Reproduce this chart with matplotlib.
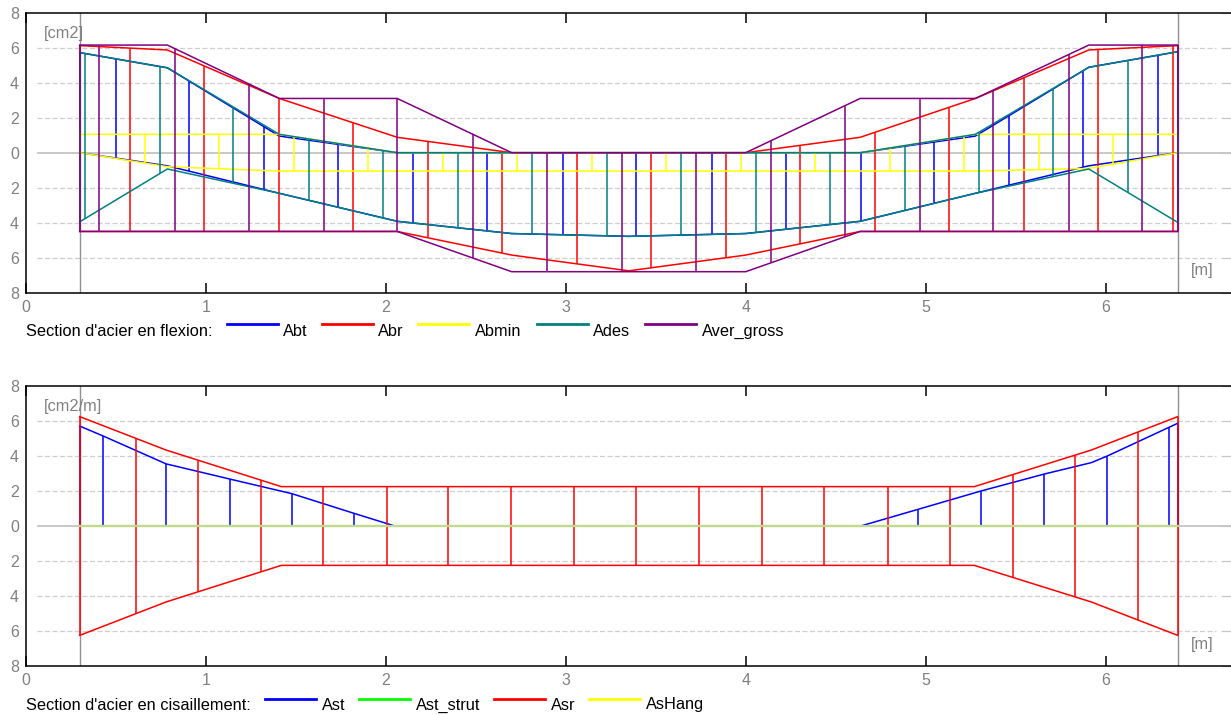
import numpy as np
import matplotlib
matplotlib.use("Agg")
import matplotlib.pyplot as plt
from matplotlib.lines import Line2D
from matplotlib.ticker import FuncFormatter

plt.rcParams['font.family'] = ['Liberation Sans', 'DejaVu Sans']

# ---------------- data : bending (flexion) ----------------
x_flex = [0.3, 0.787, 1.409, 2.064, 2.70, 3.35, 4.0, 4.636, 5.276, 5.906, 6.4]

abt_top = [5.72, 4.85, 0.95, 0.0, 0.0, 0.0, 0.0, 0.0, 0.95, 4.88, 5.77]
abt_bot = [0.0, -0.75, -2.32, -3.92, -4.62, -4.78, -4.62, -3.92, -2.32, -0.75, 0.0]
abt_hatch = [0.500, 0.909, 1.326, 1.737, 2.153, 2.564, 2.983, 3.392, 3.811,
             4.222, 4.639, 5.048, 5.464, 5.876, 6.292]

abr_top = [6.12, 5.87, 3.10, 0.88, 0.0, 0.0, 0.0, 0.88, 3.10, 5.87, 6.12]
abr_bot = [-4.5, -4.5, -4.5, -4.5, -5.85, -6.75, -5.85, -4.5, -4.5, -4.5, -4.5]
abr_hatch = [0.579, 0.991, 1.409, 1.820, 2.235, 2.646, 3.063, 3.476, 3.891,
             4.302, 4.718, 5.131, 5.548, 5.959, 6.376]

abmin_top = [1.05, 1.05, 1.05, 0.0, 0.0, 0.0, 0.0, 0.0, 1.05, 1.05, 1.05]
abmin_bot = [0.0, -0.8, -1.05, -1.05, -1.05, -1.05, -1.05, -1.05, -1.05, -0.9, 0.0]
abmin_hatch = [0.661, 1.072, 1.490, 1.902, 2.317, 2.728, 3.146, 3.557, 3.972,
               4.385, 4.802, 5.213, 5.628, 6.039]

ades_top = [5.72, 4.85, 1.05, 0.0, 0.0, 0.0, 0.0, 0.0, 1.05, 4.88, 5.77]
ades_bot = [-3.95, -0.93, -2.32, -3.92, -4.62, -4.78, -4.62, -3.92, -2.32, -0.93, -3.98]
ades_hatch = [0.329, 0.746, 1.153, 1.572, 1.983, 2.403, 2.811, 3.228, 3.641,
              4.056, 4.468, 4.885, 5.294, 5.709, 6.122]

aver_top = [6.15, 6.15, 3.10, 3.10, 0.0, 0.0, 0.0, 3.10, 3.10, 6.15, 6.15]
aver_bot = [-4.5, -4.5, -4.5, -4.5, -6.8, -6.8, -6.8, -4.5, -4.5, -4.5, -4.5]
aver_hatch = [0.409, 0.828, 1.239, 1.656, 2.064, 2.483, 2.894, 3.311, 3.722,
              4.139, 4.550, 4.967, 5.376, 5.794, 6.203]

flex_names = ["Abt", "Abr", "Abmin", "Ades", "Aver_gross"]
flex_colors = ["#0000ff", "#ff0000", "#ffff00", "#008080", "#800080"]

# ---------------- data : shear (cisaillement) ----------------
x_ast = [0.3, 0.431, 0.78, 1.135, 1.478, 1.825, 2.05, 4.639, 4.957, 5.307,
         5.659, 5.92, 6.009, 6.352, 6.4]
ast_top = [5.71, 5.14, 3.55, 2.68, 1.85, 0.72, 0.0, 0.0, 0.95, 2.0,
           2.97, 3.62, 4.0, 5.64, 5.87]
ast_hatch = [0.431, 0.78, 1.135, 1.478, 1.825, 4.957, 5.307, 5.659, 6.009, 6.352]

x_asr = [0.3, 0.78, 1.42, 5.27, 5.92, 6.4]
asr_top = [6.25, 4.34, 2.25, 2.25, 4.34, 6.25]
asr_bot = [-6.25, -4.34, -2.25, -2.25, -4.34, -6.25]
asr_hatch = [0.611, 0.956, 1.306, 1.654, 2.006, 2.347, 2.697, 3.046, 3.39, 3.74,
             4.09, 4.435, 4.789, 5.137, 5.487, 5.831, 6.181]

x_zero = [0.3, 6.4]
ast_strut = [0.0, 0.0]
ashang = [0.0, 0.0]

shear_names = ["Ast", "Ast_strut", "Asr", "AsHang"]
shear_colors = ["#0000ff", "#00ff00", "#ff0000", "#ffff00"]

# axis settings
x_ticks = [0, 1, 2, 3, 4, 5, 6]
y_ticks = [-8, -6, -4, -2, 0, 2, 4, 6, 8]
supports = [0.3, 6.4]

W, H = 1231, 715
fig = plt.figure(figsize=(W / 100, H / 100), dpi=100)

LW = 1.1
GRAY_TXT = "#808080"
FS_TICK = 11.5
FS_TXT = 11.8


def px2fig(x, y):
    return x / W, 1 - y / H


def setup_axes(ax, unit):
    ax.set_xlim(0, (1232 - 25.7) / 180)
    ax.set_ylim(-8, 8)
    for s in ["left", "top", "bottom"]:
        ax.spines[s].set_color("black")
        ax.spines[s].set_linewidth(1.1)
    ax.spines["right"].set_visible(False)
    ax.set_xticks(x_ticks)
    ax.set_yticks(y_ticks)
    ax.yaxis.set_major_formatter(FuncFormatter(lambda v, p: f"{abs(v):g}"))
    ax.tick_params(axis="x", direction="in", top=True, bottom=True, length=7,
                   width=1.1, color="black", labelcolor=GRAY_TXT, labelsize=FS_TICK,
                   pad=5)
    ax.tick_params(axis="y", direction="in", left=False, right=True, length=8,
                   width=0.9, color="#c8c8c8", labelcolor=GRAY_TXT, labelsize=FS_TICK,
                   labelleft=True, pad=5)
    # grid lines
    for yv in y_ticks[1:-1]:
        if yv == 0:
            ax.plot([0.07, 6.7], [0, 0], color="#c4c4c4", lw=1.3, zorder=0.5)
        else:
            ax.plot([0.065, 6.61], [yv, yv], color="#cfcfcf", lw=0.9,
                    linestyle=(0, (4, 2)), zorder=0.5)
    for xs in supports:
        ax.axvline(xs, color="#909090", lw=1.0, zorder=0.6)
    ax.text(0.1, 6.8, unit, color=GRAY_TXT, fontsize=FS_TXT, va="center", ha="left")
    ax.text(6.475, -6.75, "[m]", color=GRAY_TXT, fontsize=FS_TXT, va="center",
            ha="left")


def draw_band(ax, x, top, bot, hatch, color):
    ax.plot(x, top, color=color, lw=LW, zorder=2)
    ax.plot(x, bot, color=color, lw=LW, zorder=2)
    ax.vlines([x[0], x[-1]], [bot[0], bot[-1]], [top[0], top[-1]], color=color,
              lw=LW, zorder=2)
    ht = np.interp(hatch, x, top)
    hb = np.interp(hatch, x, bot)
    ax.vlines(hatch, hb, ht, color=color, lw=LW, zorder=2)


# ---------------- top panel ----------------
ax1 = fig.add_axes([25.7 / W, 1 - 292.7 / H, 1206.3 / W, 280 / H])
setup_axes(ax1, "[cm2]")
flex_data = [(abt_top, abt_bot, abt_hatch), (abr_top, abr_bot, abr_hatch),
             (abmin_top, abmin_bot, abmin_hatch), (ades_top, ades_bot, ades_hatch),
             (aver_top, aver_bot, aver_hatch)]
for (t, b, h), c in zip(flex_data, flex_colors):
    draw_band(ax1, x_flex, t, b, h, c)

# ---------------- bottom panel ----------------
ax2 = fig.add_axes([25.7 / W, 1 - 666 / H, 1206.3 / W, 280 / H])
setup_axes(ax2, "[cm2/m]")
ast_bot = np.zeros(len(x_ast))
draw_band(ax2, x_ast, ast_top, ast_bot, ast_hatch, shear_colors[0])
ax2.plot(x_zero, ast_strut, color=shear_colors[1], lw=1.6, alpha=0.35, zorder=3)
draw_band(ax2, x_asr, asr_top, asr_bot, asr_hatch, shear_colors[2])
ax2.plot(x_zero, ashang, color="#c4d88c", lw=1.6, zorder=3.1)


# ---------------- legends ----------------
def legend_row(title, names, colors, text_y, line_y, line_x0, label_x):
    fx, fy = px2fig(26, text_y)
    fig.text(fx, fy, title, fontsize=FS_TXT, color="black", va="center", ha="left")
    for n, c, lx, tx in zip(names, colors, line_x0, label_x):
        x0, y0 = px2fig(lx, line_y)
        x1, _ = px2fig(lx + 51, line_y)
        fig.add_artist(Line2D([x0, x1], [y0, y0], color=c, lw=2.0,
                              transform=fig.transFigure))
        tx_, ty_ = px2fig(tx, text_y)
        fig.text(tx_, ty_, n, fontsize=FS_TXT, color="black", va="center", ha="left")


legend_row("Section d'acier en flexion:", flex_names, flex_colors, 331, 324.5,
           [227, 322, 418, 537, 645], [283, 378, 475, 593, 702])
legend_row("Section d'acier en cisaillement:", shear_names, shear_colors, 705, 699,
           [265, 359, 494, 589], [322, 416, 551, 646])

fig.savefig("out.png", dpi=100)
